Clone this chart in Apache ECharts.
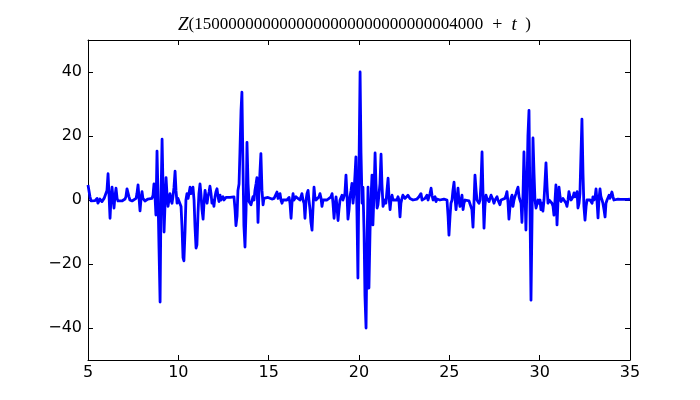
<!DOCTYPE html>
<html>
<head>
<meta charset="utf-8">
<script src="https://cdn.jsdelivr.net/npm/echarts@6/dist/echarts.min.js"></script>
<style>html,body{margin:0;padding:0;background:#fff;}#chart{width:700px;height:400px;}</style>
</head>
<body>
<div id="chart"></div>
<script>
// Title pieces
const titleNumber = '1500000000000000000000000000004000';

// Axis ticks
const xTicks = [5, 10, 15, 20, 25, 30, 35];
const yTicks = [-40, -20, 0, 20, 40];

// t values (x axis)
const tValues = [
5.00,5.06,5.11,5.17,5.22,5.39,5.50,5.55,5.66,5.77,5.89,5.94,6.00,6.05,6.11,6.16,6.22,6.27,6.33,6.38,
6.44,6.49,6.55,6.61,6.66,6.77,6.88,6.99,7.05,7.10,7.16,7.21,7.27,7.32,7.44,7.55,7.66,7.71,7.77,7.82,
7.88,7.93,7.99,8.04,8.15,8.32,8.43,8.54,8.60,8.65,8.71,8.76,8.82,8.87,8.93,8.99,9.04,9.10,9.15,9.21,
9.26,9.32,9.37,9.43,9.48,9.54,9.59,9.65,9.70,9.76,9.82,9.87,9.93,9.98,10.04,10.09,10.15,10.20,10.26,10.31,
10.37,10.42,10.48,10.54,10.59,10.65,10.70,10.76,10.81,10.87,10.92,10.98,11.03,11.09,11.14,11.20,11.25,11.31,11.37,11.42,
11.48,11.53,11.59,11.64,11.70,11.75,11.81,11.86,11.92,11.97,12.03,12.08,12.14,12.20,12.25,12.31,12.36,12.42,12.47,12.53,
12.64,12.75,12.86,12.97,13.08,13.14,13.19,13.25,13.30,13.36,13.41,13.47,13.52,13.58,13.63,13.69,13.75,13.80,13.86,13.91,
13.97,14.02,14.08,14.13,14.19,14.24,14.30,14.35,14.41,14.46,14.52,14.57,14.63,14.69,14.74,14.80,14.85,14.96,15.07,15.18,
15.30,15.35,15.41,15.46,15.52,15.57,15.63,15.68,15.74,15.79,15.90,16.01,16.13,16.18,16.24,16.29,16.35,16.40,16.51,16.62,
16.73,16.79,16.84,16.90,16.96,17.01,17.07,17.12,17.18,17.23,17.29,17.34,17.40,17.45,17.51,17.56,17.62,17.73,17.79,17.84,
17.90,17.95,18.01,18.12,18.23,18.34,18.45,18.51,18.56,18.62,18.67,18.73,18.78,18.84,18.89,18.95,19.06,19.11,19.17,19.22,
19.28,19.34,19.39,19.45,19.50,19.56,19.61,19.67,19.72,19.78,19.83,19.89,19.94,20.00,20.06,20.11,20.17,20.22,20.28,20.33,
20.39,20.44,20.50,20.55,20.61,20.66,20.72,20.77,20.83,20.89,20.94,21.00,21.05,21.11,21.16,21.22,21.27,21.33,21.38,21.44,
21.49,21.55,21.61,21.66,21.72,21.77,21.83,21.88,21.99,22.10,22.16,22.21,22.27,22.32,22.38,22.43,22.55,22.60,22.71,22.82,
22.93,22.99,23.10,23.21,23.32,23.38,23.43,23.49,23.54,23.65,23.76,23.82,23.87,23.93,23.99,24.04,24.10,24.15,24.21,24.26,
24.32,24.48,24.59,24.70,24.81,24.87,24.93,24.98,25.04,25.09,25.15,25.20,25.26,25.31,25.37,25.42,25.48,25.53,25.59,25.65,
25.70,25.76,25.81,25.87,25.98,26.09,26.14,26.20,26.25,26.31,26.37,26.42,26.48,26.53,26.59,26.64,26.70,26.75,26.81,26.86,
26.92,26.97,27.03,27.08,27.14,27.20,27.25,27.31,27.36,27.42,27.47,27.53,27.58,27.64,27.69,27.75,27.80,27.86,27.91,27.97,
28.08,28.14,28.19,28.25,28.30,28.36,28.41,28.47,28.52,28.58,28.63,28.69,28.74,28.80,28.86,28.91,28.97,29.02,29.08,29.13,
29.19,29.24,29.30,29.35,29.41,29.46,29.52,29.58,29.63,29.69,29.74,29.80,29.85,29.91,29.96,30.02,30.07,30.13,30.18,30.24,
30.29,30.35,30.41,30.46,30.52,30.63,30.68,30.74,30.79,30.85,30.90,30.96,31.01,31.07,31.13,31.18,31.24,31.29,31.35,31.40,
31.46,31.51,31.57,31.62,31.68,31.74,31.79,31.85,31.90,31.96,32.01,32.07,32.12,32.18,32.23,32.29,32.34,32.40,32.45,32.51,
32.57,32.62,32.68,32.73,32.79,32.84,32.90,32.95,33.01,33.07,33.12,33.17,33.23,33.28,33.34,33.39,33.45,33.50,33.56,33.62,
33.67,33.73,33.78,33.84,33.89,33.95,34.00,34.06,34.11,34.17,34.22,34.33,34.45,34.56,34.67,34.78,34.89,35.00
];

// Z values (y axis)
const zValues = [
4.7,5,1,-0.3,0.3,-0.2,0.5,-1,0.3,-0.5,0.5,0,1,3,8.2,2,-5.7,0,4,1,
-2.5,1,3.7,0.5,-0.3,0.2,-0.3,0,0.3,1,3.5,3.7,1,0,-0.3,-0.6,0.5,2,4.7,1,
-3.4,0,2.6,0.5,-0.3,0.3,-0.2,0.5,1.5,5,1,-4.7,15.3,3,-15,-31.9,0,19,5,-10,
-2,7,2,-2,0,2,0,-1,1,4,9,3,-1,0.5,1,0,-2,-8,-18,-19,
-10,0,2,0.5,2,4,2,3,4,0,-8,-15,-14,-4,2,5,2,-3,-6,-1,
3,1,-1,1,2.5,4.3,2,-1,0,-2,1,2.5,3.5,1,-0.5,1.5,0,-0.5,1,0,
0.8,0.5,0.8,0.5,1,-3,-8,-5,3,5,15,28,33.7,10,-8,-14.7,-3,18,5,-0.5,
-1,-1.5,-2,1,0,3,5,7,-7,2,9,14.5,3,-1.5,0.5,0.8,1,0.8,1,0.3,
0.5,1,0,2.5,0.5,1,2,0,-1,0,0.5,0,0.8,-1,-5.7,-1,2,0,1,0.5,
0,1,2,0,-1,-5.7,0,2,3,0,-3,-7,-9.4,-3,4,1,0,0.5,1,2,
0.5,-2,0,0.5,0,0.3,1,2,-1,-5.7,-2,1,-2,-6.4,-3,0,1.5,0,-0.5,2,
7.8,1,-6,-3,1,3,5.2,-1,2,8,13.5,-5,-24.4,10,40,15,-1,4,-10,-30,
-40,-15,4,-27.5,-10,0,7.8,-7.8,2,14.7,5,-2.5,-1.5,-2,5,14.3,5,-2,-1,0,
-1,3,6.8,1,-3,0,1.5,0,-0.5,0,1,0,-5.3,-1,0.5,1.5,0.5,0,1.5,0.5,
0.8,0,0.5,0.3,1,1.5,2,0,-0.5,0.5,1.5,0,1,2,3.7,1.5,0,0.5,1,-0.5,
0.3,0,0.5,0.3,0.2,0,-5,-11,-5,-1,0,3,5.6,1,-3,0,3.7,0,-2,0,
1.5,-3,-1,0,0.3,-0.3,0,-0.5,-3,-8.5,0,7.8,3,0,0.5,-1,0,5,15,3,
-8.8,-2,1.5,0.5,0,-0.5,0.5,1.5,2,0,-1,0,0.5,1,0,-0.5,-1.5,0,0.3,0.5,
0.5,1.5,2.6,-1,-6,-2,0.5,1.5,-2,0,1,2,3,4,1,0,-1,-7,2,15,
2,-9.4,5,20,28,0,-31.3,-5,19.4,8,0,-2.5,-2,0,-1,0,-3,-1,-3.5,0,
5,11.6,4,-1,0,0,-1,-2,-4.7,0,4.7,-7.8,-1,4,1,-0.5,0,0.5,0.3,0,
-1,-2,0,2.6,1,0,0.3,1,2.2,1,1.5,2.6,-2.5,-1,2,15,25.3,8,-2,-6.3,
-2,0,0.3,0.5,0,-0.5,-1,1,0,1,3.5,0,-5.6,0,3.5,1,0,-1,-3,-5.3,
-1,0,0.5,1.5,0.5,1,2.5,1,0,-0.5,0,0.3,0.2,0.3,0.2,0.3,0.2,0.3
];

const seriesData = tValues.map((t, i) => [t, zValues[i]]);

const chart = echarts.init(document.getElementById('chart'), null, {renderer: 'canvas'});
const labelFont = {color: '#000', fontFamily: 'DejaVu Sans', fontSize: 16};
const fmtY = v => (v < 0 ? '\u2212' + Math.abs(v) : String(v));
const serif = 'Liberation Serif';

chart.setOption({
  animation: false,
  backgroundColor: '#ffffff',
  title: {
    left: 178,
    top: 13,
    padding: 0,
    text: '{z|Z}{n|(' + titleNumber + '}{op|\u2002+\u2002}{t|t}{n|\u2002)}',
    textStyle: {
      fontWeight: 'normal',
      rich: {
        z: {fontFamily: serif, fontStyle: 'italic', fontWeight: 'normal', fontSize: 19, lineHeight: 24, color: '#000'},
        n: {fontFamily: serif, fontWeight: 'normal', fontSize: 17, lineHeight: 24, color: '#000'},
        op: {fontFamily: serif, fontWeight: 'normal', fontSize: 18, lineHeight: 24, color: '#000'},
        t: {fontFamily: serif, fontStyle: 'italic', fontWeight: 'normal', fontSize: 19, lineHeight: 24, color: '#000'}
      }
    }
  },
  grid: {left: 88, right: 70, top: 40, bottom: 40, containLabel: false},
  xAxis: [
    {
      type: 'value', position: 'bottom', min: 5, max: 35, interval: 5,
      axisLine: {show: true, onZero: false, lineStyle: {color: '#000', width: 1}},
      axisTick: {show: true, inside: true, length: 5, lineStyle: {color: '#000'}},
      axisLabel: Object.assign({margin: 5}, labelFont),
      splitLine: {show: false}
    },
    {
      type: 'value', position: 'top', min: 5, max: 35, interval: 5,
      axisLine: {show: true, onZero: false, lineStyle: {color: '#000', width: 1}},
      axisTick: {show: true, inside: true, length: 5, lineStyle: {color: '#000'}},
      axisLabel: {show: false},
      splitLine: {show: false}
    }
  ],
  yAxis: [
    {
      type: 'value', position: 'left', min: -50, max: 50, interval: 10,
      axisLine: {show: true, onZero: false, lineStyle: {color: '#000', width: 1}},
      axisTick: {show: true, inside: true, length: 5, lineStyle: {color: '#000'}, customValues: yTicks},
      axisLabel: Object.assign({margin: 6, formatter: fmtY, customValues: yTicks}, labelFont),
      splitLine: {show: false}
    },
    {
      type: 'value', position: 'right', min: -50, max: 50, interval: 10,
      axisLine: {show: true, onZero: false, lineStyle: {color: '#000', width: 1}},
      axisTick: {show: true, inside: true, length: 5, lineStyle: {color: '#000'}, customValues: yTicks},
      axisLabel: {show: false, customValues: yTicks},
      splitLine: {show: false}
    }
  ],
  series: [{
    type: 'line',
    xAxisIndex: 0,
    yAxisIndex: 0,
    data: seriesData,
    showSymbol: false,
    symbol: 'none',
    lineStyle: {color: '#0000ff', width: 2.8, join: 'round'},
    clip: true
  }]
});
</script>
</body>
</html>
